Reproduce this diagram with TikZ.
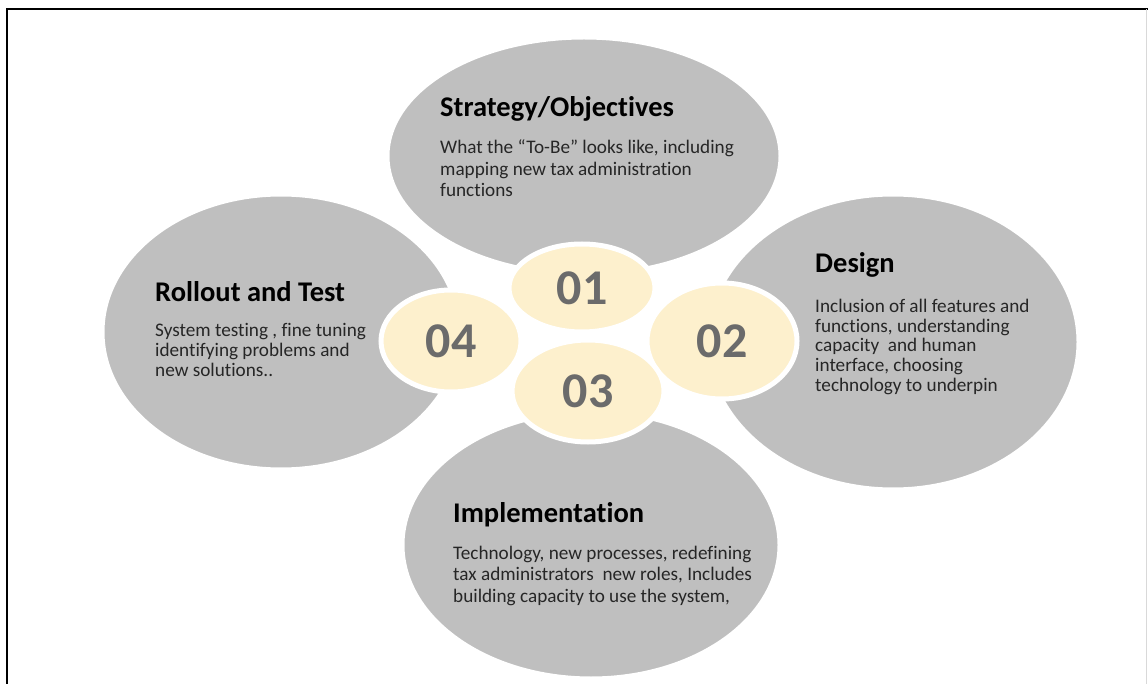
\documentclass[tikz,border=0pt]{standalone}
\usepackage{fontspec}
\setmainfont{Carlito}[Ligatures=NoCommon]
\usetikzlibrary{shapes.geometric}
\definecolor{petalgray}{HTML}{BFBFBF}
\definecolor{coreyellow}{HTML}{FDF0CD}
\definecolor{numgray}{HTML}{6B6B6B}
\tikzset{
  petal/.style={ellipse,fill=petalgray,draw=white,line width=3pt,inner sep=0pt},
  core/.style={ellipse,fill=coreyellow,draw=white,line width=5pt,inner sep=0pt,
    text=numgray,font=\fontsize{50}{50}\selectfont\bfseries},
  head/.style={anchor=base west,inner sep=0pt,font=\fontsize{28.5}{30}\selectfont\bfseries},
  blurb/.style={anchor=base west,inner sep=0pt,align=left,text=black!85,
    font=\fontsize{19.2}{21.5}\selectfont},
  tight/.style={font=\fontsize{19.2}{19.6}\selectfont}
}
\begin{document}
\begin{tikzpicture}[x=1pt,y=-1pt]
  \useasboundingbox (0,0) rectangle (1148,684);
  \draw[line width=2pt] (7,684) -- (7,9) -- (1148,9);
  \draw[black!15] (1146,9) -- (1146,684);

  \node[petal,minimum width=356,minimum height=274] (rollout) at (281,332) {};
  \node[petal,minimum width=370,minimum height=294] (design) at (893,342) {};
  \node[petal,minimum width=376,minimum height=266] (impl) at (591,545) {};
  \node[petal,minimum width=392,minimum height=236] (strategy) at (584,156) {};

  \node[core,minimum width=146,minimum height=88] (n1) at (582,288) {01};
  \node[core,minimum width=140,minimum height=102] (n4) at (451,341) {04};
  \node[core,minimum width=150,minimum height=116] (n2) at (722,341) {02};
  \node[core,minimum width=152,minimum height=102] (n3) at (588,391) {03};

  \node[head] (strategy-head) at (440,117) {Strategy/Objectives};
  \node[blurb] (strategy-text) at (440,197) {What the “To-Be” looks like, including\\mapping new tax administration\\functions};
  \node[head] (design-head) at (815,273) {Design};
  \node[blurb,tight] (design-text) at (815,391) {Inclusion of all features and\\functions, understanding\\capacity\ \ and human\\interface, choosing\\technology to underpin};
  \node[head] (impl-head) at (453,522) {Implementation};
  \node[blurb] (impl-text) at (453,602) {Technology, new processes, redefining\\tax administrators\ \ new roles, Includes\\building capacity to use the system,};
  \node[head] (rollout-head) at (155,302) {Rollout and Test};
  \node[blurb,tight] (rollout-text) at (155,376) {System testing , fine tuning\\identifying problems and\\new solutions..};
\end{tikzpicture}
\end{document}
